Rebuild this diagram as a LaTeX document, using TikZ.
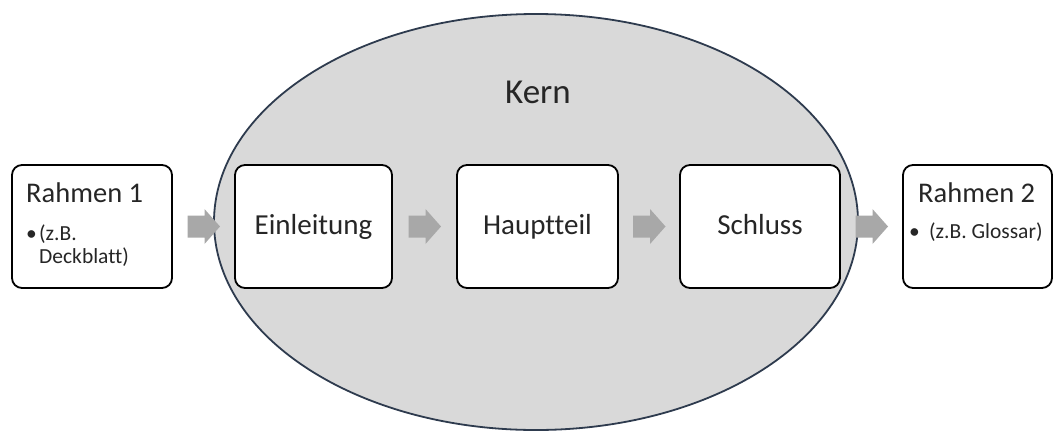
\documentclass[tikz,border=0pt]{standalone}
\usepackage{fontspec}
\setmainfont[Ligatures=NoCommon]{Carlito}
\usetikzlibrary{calc}
\definecolor{txt}{HTML}{262626}
\definecolor{kernfill}{HTML}{D9D9D9}
\definecolor{kernline}{HTML}{2E3B4E}
\definecolor{arrowgray}{HTML}{A8A8A8}
\tikzset{
  box/.style={draw=black, line width=1.8pt, fill=white, rounded corners=10pt},
  stage/.style={box, minimum height=123pt, font=\fontsize{29}{31}\selectfont, text=txt,
    text height=20pt, text depth=5pt, inner sep=0pt},
  title/.style={font=\fontsize{28.5}{30}\selectfont, text=txt, anchor=base west, inner sep=0pt},
  item/.style={font=\fontsize{21.5}{23}\selectfont, text=txt, anchor=base west, inner sep=0pt},
  flowarrow/.style={fill=arrowgray, draw=none},
}
\newcommand{\flowarrowat}[1]{%
  \fill[flowarrow] ($(#1)+(-16,-11)$) -- ($(#1)+(1,-11)$) -- ($(#1)+(1,-17.5)$) --
    ($(#1)+(16.5,0)$) -- ($(#1)+(1,17.5)$) -- ($(#1)+(1,11)$) -- ($(#1)+(-16,11)$) -- cycle;}
\begin{document}
\begin{tikzpicture}[x=1pt,y=-1pt]
\useasboundingbox (0,0) rectangle (1057,432);
% Kern ellipse
\begin{scope}
\clip (0,0) rectangle (1057,432);
\draw[fill=kernfill, draw=kernline, line width=1.8pt] (536,222) ellipse [x radius=322, y radius=208];
\end{scope}
\node[font=\fontsize{35}{37}\selectfont, text=txt, anchor=base, inner sep=0pt] (kern) at (538,103) {Kern};
% boxes
\node[box, minimum width=160pt, minimum height=123pt, inner sep=0pt] (r1) at (92,226.5) {};
\node[stage, minimum width=157pt] (ein) at (313.5,226.5) {Einleitung};
\node[stage, minimum width=161pt] (haupt) at (537.5,226.5) {Hauptteil};
\node[stage, minimum width=160pt] (schluss) at (760,226.5) {Schluss};
\node[box, minimum width=149pt, minimum height=123pt, inner sep=0pt] (r2) at (977.5,226.5) {};
% Rahmen 1 text
\node[title] (r1t) at (26,202.5) {Rahmen 1};
\node[item] (r1b) at (26,240) {•};
\node[item] (r1i) at (39,240) {(z.B.};
\node[item] (r1j) at (39,263) {Deckblatt)};
% Rahmen 2 text
\node[title] (r2t) at (918,202.5) {Rahmen 2};
\node[item] (r2b) at (909,238) {•};
\node[item] (r2i) at (929,238) {(z.B. Glossar)};
% arrows
\coordinate (a1) at ($(r1.east)!0.5!(ein.west)$);
\coordinate (a2) at ($(ein.east)!0.5!(haupt.west)$);
\coordinate (a3) at ($(haupt.east)!0.5!(schluss.west)$);
\coordinate (a4) at ($(schluss.east)!0.5!(r2.west)$);
\flowarrowat{a1}
\flowarrowat{a2}
\flowarrowat{a3}
\flowarrowat{a4}
\end{tikzpicture}
\end{document}
